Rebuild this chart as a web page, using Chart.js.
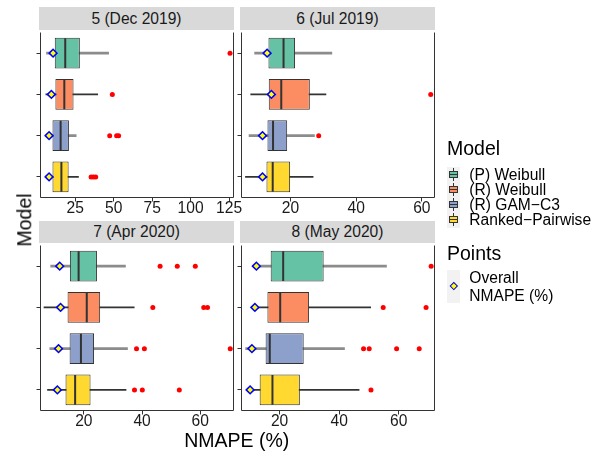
<!DOCTYPE html>
<html>
<head>
<meta charset="utf-8">
<script src="https://cdn.jsdelivr.net/npm/chart.js@4.4.1/dist/chart.umd.min.js"></script>
<style>
  body { margin: 0; background: #fff; font-family: "Liberation Sans", Arial, Helvetica, sans-serif; }
  #wrap { position: relative; width: 614px; height: 458px; overflow: hidden; background: #fff; }
  canvas { position: absolute; }
  .strip { position: absolute; background: #d9d9d9; color: #1a1a1a; font-size: 15.6px; text-align: center; white-space: nowrap; }
  .txt { position: absolute; white-space: nowrap; color: #000; }
  .keybg { position: absolute; background: #f2f2f2; }
  .whisk { position: absolute; width: 1px; background: #333; }
  .kbox { position: absolute; box-sizing: border-box; border: 1px solid #333; }
  .kmed { position: absolute; height: 1px; background: #333; }
</style>
</head>
<body>
<div id="wrap"></div>
<script>
const models = ['(P) Weibull', '(R) Weibull', '(R) GAM\u2212C3', 'Ranked\u2212Pairwise'];
const colors = ['#66C2A5', '#FC8D62', '#8DA0CB', '#FFD92F'];
const panels = ['5 (Dec 2019)', '6 (Jul 2019)', '7 (Apr 2020)', '8 (May 2020)'];

// one inner array per panel, rows in model order
const lowerWhisker = [
  [6.3, 5.9, 5.9, 5.9],
  [9.1, 7.9, 7.4, 6.3],
  [8.6, 6.3, 8.3, 7.5],
  [12.2, 11.7, 8.6, 10.8]
];
const q1 = [
  [11.7, 12.1, 10.2, 10.2],
  [13.3, 13.4, 13.0, 12.7],
  [15.2, 14.4, 15.1, 13.7],
  [17.0, 15.9, 15.3, 13.3]
];
const median = [
  [18.5, 17.9, 15.5, 16.0],
  [17.9, 17.2, 14.7, 14.6],
  [18.2, 21.0, 19.0, 17.0],
  [21.2, 20.2, 16.7, 17.6]
];
const q3 = [
  [28.0, 23.9, 20.9, 20.7],
  [21.4, 25.9, 19.0, 19.9],
  [24.5, 25.6, 23.5, 22.3],
  [34.8, 29.9, 28.1, 26.8]
];
const upperWhisker = [
  [46.7, 39.6, 25.6, 27.1],
  [32.6, 30.8, 27.3, 26.9],
  [34.3, 37.3, 35.0, 34.5],
  [55.9, 50.6, 41.8, 46.7]
];
const overallNmape = [
  [10.6, 9.5, 8.0, 8.0],
  [12.9, 14.2, 11.5, 11.5],
  [11.7, 12.0, 11.3, 10.9],
  [12.2, 11.7, 10.7, 10.1]
];
const outliers = [
  [[125.6], [49.1], [47.4, 51.9, 53.2], [35.3, 36.8, 38.3]],
  [[], [62.7], [28.6], []],
  [[46.2, 52.1, 58.3], [43.7, 61.2, 62.5], [38.1, 40.8, 70.3], [37.4, 40.1, 52.8]],
  [[70.9], [54.8, 69.2], [48.2, 50.1, 59.3, 66.9], [50.7]]
];
const xTicks = [[25, 50, 75, 100, 125], [20, 40, 60], [20, 40, 60], [20, 40, 60]];
const xMin = [2.42, 5.1, 5.1, 7.2];
const xMax = [128.2, 64.0, 71.6, 72.2];

const FONT = '"Liberation Sans", Arial, Helvetica, sans-serif';
const wrap = document.getElementById('wrap');

// panel plot areas in page pixels
const frames = [
  { left: 39, top: 29.5 }, { left: 240, top: 29.5 },
  { left: 39, top: 242.5 }, { left: 240, top: 242.5 }
];
const PW = 195, PH = 168, YAX = 4, PADR = 16, PADT = 2.5, XAX = 30.5;

const panelBorder = {
  id: 'panelBorder',
  afterDatasetsDraw(chart) {
    const { ctx, chartArea: a } = chart;
    const l = Math.floor(a.left) + 0.5, r = Math.floor(a.right) - 0.5, b = Math.floor(a.bottom) + 0.5;
    ctx.save();
    ctx.strokeStyle = '#333';
    ctx.lineWidth = 1;
    ctx.beginPath();
    ctx.moveTo(l, a.top);
    ctx.lineTo(l, b);
    ctx.lineTo(r, b);
    ctx.lineTo(r, a.top);
    ctx.stroke();
    ctx.restore();
  }
};

const addDiv = (cls, style, text) => {
  const d = document.createElement('div');
  d.className = cls;
  Object.assign(d.style, style);
  if (text !== undefined) d.textContent = text;
  wrap.appendChild(d);
  return d;
};

panels.forEach((title, p) => {
  const f = frames[p];
  const canvas = document.createElement('canvas');
  canvas.width = YAX + PW + PADR;
  canvas.height = PADT + PH + XAX;
  canvas.style.left = (f.left - YAX) + 'px';
  canvas.style.top = (f.top - PADT) + 'px';
  wrap.appendChild(canvas);

  const outlierPts = outliers[p].flatMap((vals, i) => vals.map(v => ({ x: v, y: models[i] })));

  new Chart(canvas, {
    type: 'bar',
    data: {
      labels: models,
      datasets: [
        {
          type: 'scatter',
          data: models.map((m, i) => ({ x: overallNmape[p][i], y: m })),
          pointStyle: 'rectRot',
          pointRadius: 3.9,
          pointBackgroundColor: '#ffff00',
          pointBorderColor: '#0000ff',
          pointBorderWidth: 1.5,
          order: 0
        },
        {
          type: 'scatter',
          data: outlierPts,
          pointStyle: 'circle',
          pointRadius: 2.5,
          pointBackgroundColor: '#ff0000',
          pointBorderWidth: 0,
          order: 1
        },
        {
          type: 'scatter',
          data: models.map((m, i) => ({ x: median[p][i], y: m })),
          pointStyle: 'line',
          pointRotation: 90,
          pointRadius: c => c.chart.chartArea ? c.chart.chartArea.height / models.length * 0.75 / 2 - 0.5 : 0,
          pointBorderColor: '#333',
          pointBorderWidth: 2,
          order: 2
        },
        {
          type: 'bar',
          data: models.map((m, i) => [q1[p][i], q3[p][i]]),
          backgroundColor: colors,
          borderColor: '#333',
          borderWidth: 1,
          borderSkipped: false,
          barPercentage: 0.75,
          categoryPercentage: 1,
          grouped: false,
          order: 3
        },
        {
          type: 'bar',
          data: models.map((m, i) => i % 2 === 1 ? [lowerWhisker[p][i], upperWhisker[p][i]] : null),
          backgroundColor: '#333',
          barThickness: 1,
          grouped: false,
          order: 4
        },
        {
          type: 'bar',
          data: models.map((m, i) => i % 2 === 0 ? [lowerWhisker[p][i], upperWhisker[p][i]] : null),
          backgroundColor: '#8c8c8c',
          barThickness: 2,
          grouped: false,
          order: 5
        }
      ]
    },
    options: {
      indexAxis: 'y',
      responsive: false,
      animation: false,
      devicePixelRatio: 1,
      events: [],
      layout: { padding: { left: 0, top: PADT, right: PADR, bottom: 0 } },
      plugins: { legend: { display: false }, tooltip: { enabled: false } },
      scales: {
        x: {
          type: 'linear',
          min: xMin[p],
          max: xMax[p],
          beginAtZero: false,
          grid: { display: true, drawOnChartArea: false, drawTicks: true, tickLength: 4, color: '#333' },
          border: { display: false },
          ticks: { color: '#1a1a1a', font: { family: FONT, size: 15.6 }, padding: -2, maxRotation: 0, autoSkip: false },
          afterBuildTicks: s => { s.ticks = xTicks[p].map(v => ({ value: v })); },
          afterFit: s => { s.height = XAX; }
        },
        y: {
          type: 'category',
          labels: models,
          offset: true,
          grid: { display: true, drawOnChartArea: false, drawTicks: true, tickLength: 4, offset: false, color: '#333' },
          border: { display: false },
          ticks: { display: false },
          afterFit: s => { s.width = YAX; }
        }
      }
    },
    plugins: [panelBorder]
  });

  // facet strip
  const stripTop = p < 2 ? 7 : 221;
  const stripH = f.top + 0.5 - stripTop;
  addDiv('strip', { left: f.left + 'px', top: stripTop + 'px', width: PW + 'px', height: stripH + 'px', lineHeight: stripH + 'px' }, title);
});

// axis titles
addDiv('txt', { left: '236.7px', top: '430.8px', fontSize: '19.5px', lineHeight: '19.5px', transform: 'translateX(-50%)' }, 'NMAPE (%)');
addDiv('txt', { left: '24.5px', top: '220px', fontSize: '19.5px', lineHeight: '19.5px', transform: 'translate(-50%, -50%) rotate(-90deg)' }, 'Model');

// legend: Model
addDiv('txt', { left: '447px', top: '139.1px', fontSize: '19.5px', lineHeight: '19.5px' }, 'Model');
const keyTop = 166.5, keyH = 15.25;
addDiv('keybg', { left: '447px', top: keyTop + 'px', width: '13px', height: (keyH * models.length) + 'px' });
models.forEach((m, i) => {
  const cy = keyTop + keyH * (i + 0.5);
  addDiv('whisk', { left: '453px', top: (cy - 6.5) + 'px', height: '13px' });
  addDiv('kbox', { left: '449px', top: (cy - 3.5) + 'px', width: '9px', height: '7px', background: colors[i] });
  addDiv('kmed', { left: '449px', top: (cy - 0.5) + 'px', width: '9px' });
  addDiv('txt', { left: '469.3px', top: (keyTop + keyH * i) + 'px', fontSize: '15.6px', lineHeight: keyH + 'px' }, m);
});

// legend: Points
addDiv('txt', { left: '447px', top: '244.1px', fontSize: '19.5px', lineHeight: '19.5px' }, 'Points');
addDiv('keybg', { left: '447px', top: '270px', width: '13px', height: '33px' });
addDiv('txt', { left: '450.6px', top: '282.6px', width: '3.6px', height: '3.6px', background: '#ffff00', border: '1.2px solid #0000ff', transform: 'rotate(45deg)' });
addDiv('txt', { left: '469.3px', top: '269.2px', fontSize: '15.6px', lineHeight: '17.4px' }, 'Overall');
addDiv('txt', { left: '469.3px', top: '286.6px', fontSize: '15.6px', lineHeight: '17.4px' }, 'NMAPE (%)');
</script>
</body>
</html>
